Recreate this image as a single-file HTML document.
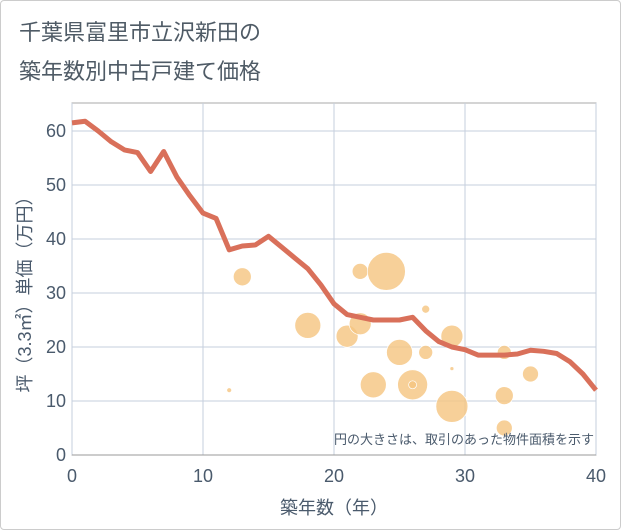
<!DOCTYPE html>
<html><head><meta charset="utf-8"><style>
body{margin:0;background:#fff;}
#c{position:relative;width:619px;height:528px;border:1px solid #ccc;border-radius:4px;overflow:hidden;font-family:"Liberation Sans","Noto Sans CJK JP",sans-serif;}
.t{position:absolute;left:18px;font-size:22px;color:#4f5b66;}
</style></head><body>
<div id="c">
<div class="t" style="top:14px">千葉県富里市立沢新田の</div>
<div class="t" style="top:53px">築年数別中古戸建て価格</div>
<svg id="s" width="621" height="530" style="position:absolute;left:-1px;top:-1px"></svg>
</div>
<script>
const years=[0,1,2,3,4,5,6,7,8,9,10,11,12,13,14,15,16,17,18,19,20,21,22,23,24,25,26,27,28,29,30,31,32,33,34,35,36,37,38,39,40];
const avgPrice=[61.5,61.8,60,58,56.5,56,52.5,56.2,51.5,48,44.8,43.8,38,38.7,38.9,40.5,38.5,36.5,34.5,31.5,28,26,25.5,25,25,25,25.5,23,21,20,19.5,18.5,18.5,18.5,18.7,19.4,19.2,18.8,17.3,15,12];
const bubbleAge=[12,13,18,21,22,22,24,25,27,27,29,29,23,26,26,29,33,33,33,35];
const bubblePrice=[12,33,24,22,24.3,34,34,19,27,19,22,16,13,13,13,9,19,11,5,15];
const bubbleArea=[6,81,169,121,121,64,361,169,16,49,121,4,169,225,16,256,49,81,64,64];
const xTicks=[0,10,20,30,40];
const yTicks=[0,10,20,30,40,50,60];
const X0=72,X1=596,Y0=455,Y1=103;
const xs=v=>X0+(v-0)/40*(X1-X0);
const ys=v=>Y0-v*5.4;
const s=document.getElementById('s');
const NS='http://www.w3.org/2000/svg';
const TXT='#4a5a6c';
function mk(t,a,p){const e=document.createElementNS(NS,t);for(const k in a)e.setAttribute(k,a[k]);(p||s).appendChild(e);return e;}
const bg=mk('rect',{x:X0,y:Y1,width:X1-X0,height:Y0-Y1,fill:'#fff',stroke:'#aaa'});


xTicks.forEach(v=>{
 const l=mk('line',{x1:xs(v),x2:xs(v),y1:Y1,y2:Y0,stroke:'#c5cfdd'});
 
 
 const t=mk('text',{x:xs(v),y:Y0+27,'text-anchor':'middle','font-size':18,fill:TXT});t.textContent=v;
 
 
});
yTicks.forEach(v=>{
 const l=mk('line',{x1:X0,x2:X1,y1:ys(v),y2:ys(v),stroke:'#c5cfdd'});
 
 
 const t=mk('text',{x:X0-6,y:ys(v)+6,'text-anchor':'end','font-size':18,fill:TXT});t.textContent=v;
 
 
});
mk('line',{x1:X0,x2:X1,y1:Y0,y2:Y0,stroke:'#999'});
bubbleAge.forEach((a,i)=>{
 const c=mk('circle',{cx:xs(a),cy:ys(bubblePrice[i]),r:Math.sqrt(bubbleArea[i]),fill:'#f5c47f','fill-opacity':0.8,stroke:'#fff','stroke-width':0.7});
 
 
});
const p=mk('polyline',{points:years.map((y,i)=>xs(y)+','+ys(avgPrice[i])).join(' '),fill:'none',stroke:'#d9705a','stroke-width':5,'stroke-linejoin':'round'});


const n=mk('text',{x:594,y:444,'text-anchor':'end','font-size':13,fill:TXT});n.textContent='円の大きさは、取引のあった物件面積を示す';


const xt=mk('text',{x:334,y:514,'text-anchor':'middle','font-size':18,fill:TXT});xt.textContent='築年数（年）';


const yt=mk('text',{x:0,y:0,'text-anchor':'middle','font-size':18,fill:TXT,transform:'translate(31,290) rotate(-90)'});yt.textContent='坪（3.3㎡）単価（万円）';


</script>
</body></html>
